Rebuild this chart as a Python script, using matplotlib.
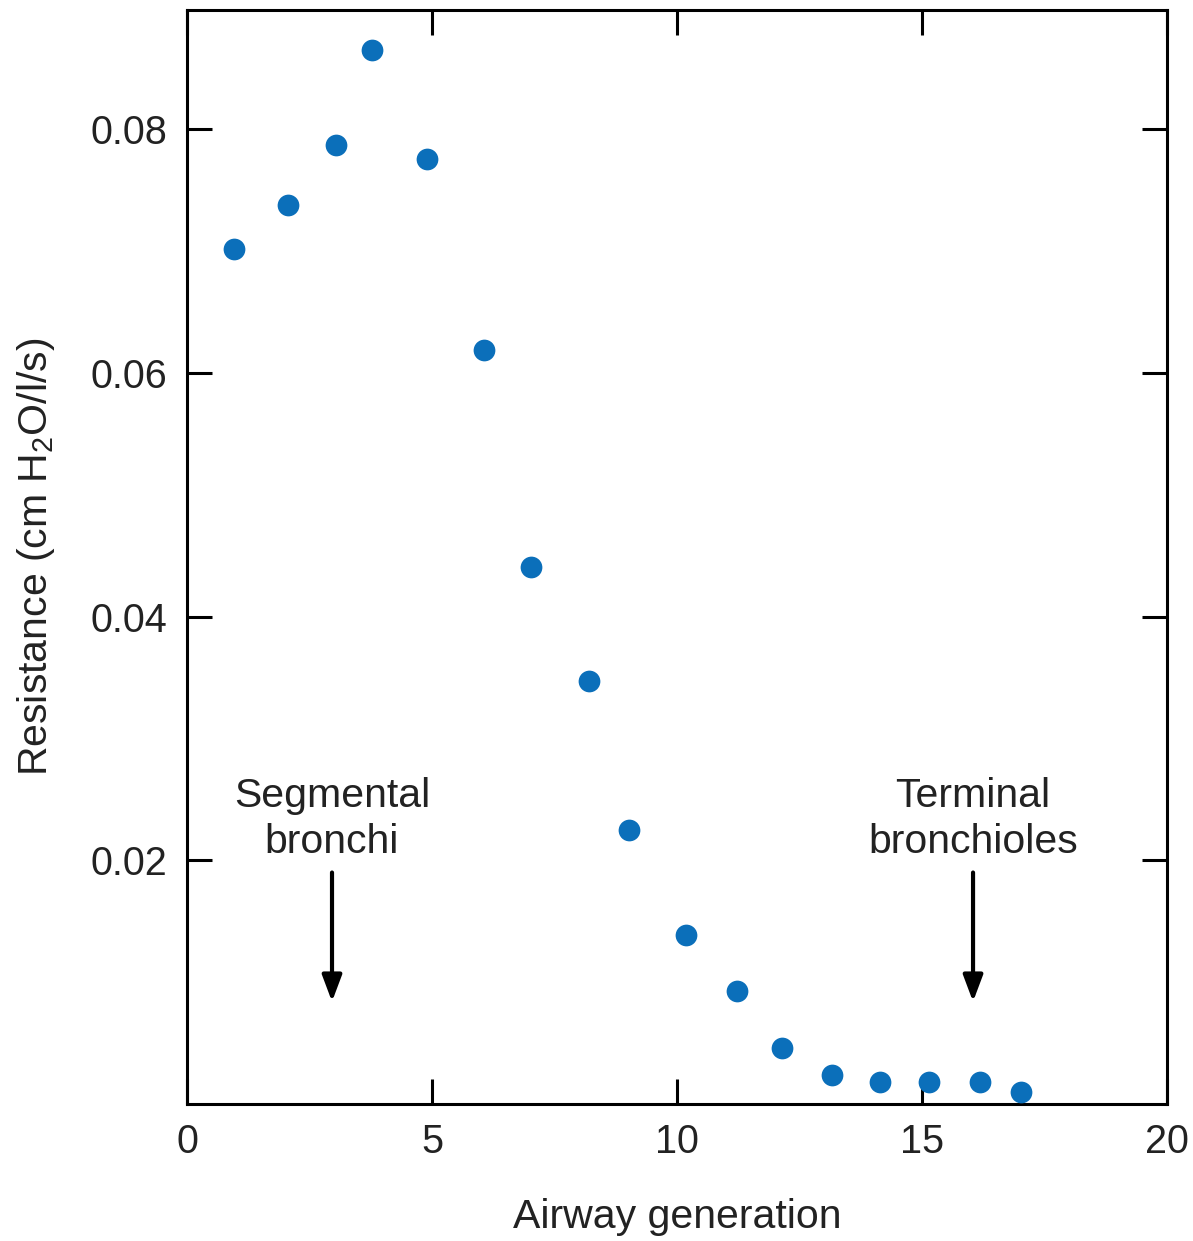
import matplotlib
matplotlib.use("Agg")
import matplotlib.pyplot as plt

plt.rcParams['font.family'] = ['Liberation Sans', 'DejaVu Sans']
plt.rcParams['mathtext.fontset'] = 'custom'
plt.rcParams['mathtext.rm'] = 'Liberation Sans'
plt.rcParams['mathtext.default'] = 'regular'

# airway generation vs resistance
generation = [0.96, 2.06, 3.04, 3.78, 4.9, 6.06, 7.02, 8.2, 9.02, 10.18,
              11.22, 12.14, 13.16, 14.14, 15.14, 16.18, 17.02]
resistance = [0.0702, 0.0738, 0.0787, 0.0865, 0.0776, 0.0619, 0.0441, 0.0347,
              0.0225, 0.0139, 0.0093, 0.0046, 0.0024, 0.0018, 0.0018, 0.0018,
              0.0010]

xticks = [0, 5, 10, 15, 20]
yticks = [0.02, 0.04, 0.06, 0.08]

fig = plt.figure(figsize=(11.93, 12.41), dpi=100)
ax = fig.add_axes([0.1567, 0.1104, 0.8216, 0.8816])

ax.scatter(generation, resistance, s=245, color='#0b6fba', zorder=3,
           linewidths=0)

ax.set_xlim(0, 20)
ax.set_ylim(0, 0.0898)
ax.set_xticks(xticks)
ax.set_yticks(yticks)
ax.set_xticklabels([str(t) for t in xticks])
ax.set_yticklabels(['%.2f' % t for t in yticks])

ax.tick_params(direction='in', length=18, width=2.2, top=True, right=True,
               labelsize=28.5, pad=14, colors='black')
ax.tick_params(axis='y', labelcolor='#222222')
ax.tick_params(axis='x', labelcolor='#222222')
for sp in ax.spines.values():
    sp.set_linewidth(2.2)

ax.set_xlabel('Airway generation', fontsize=29.5, labelpad=26, color='#222222')
ax.set_ylabel('Resistance (cm H$_2$O/l/s)', fontsize=29.5, labelpad=24,
              color='#222222')

# annotations
arrow = dict(arrowstyle='-|>,head_length=1.6,head_width=0.6', lw=3,
             color='black', shrinkA=0, shrinkB=0)
ax.annotate('', xy=(2.96, 0.0084), xytext=(2.96, 0.0190), arrowprops=arrow)
ax.annotate('', xy=(16.04, 0.0084), xytext=(16.04, 0.0190), arrowprops=arrow)
ax.text(2.96, 0.0234, 'Segmental\nbronchi', ha='center', va='center',
        fontsize=29.5, linespacing=1.25, color='#222222')
ax.text(16.04, 0.0234, 'Terminal\nbronchioles', ha='center', va='center',
        fontsize=29.5, linespacing=1.25, color='#222222')

fig.savefig('out.png', dpi=100)
